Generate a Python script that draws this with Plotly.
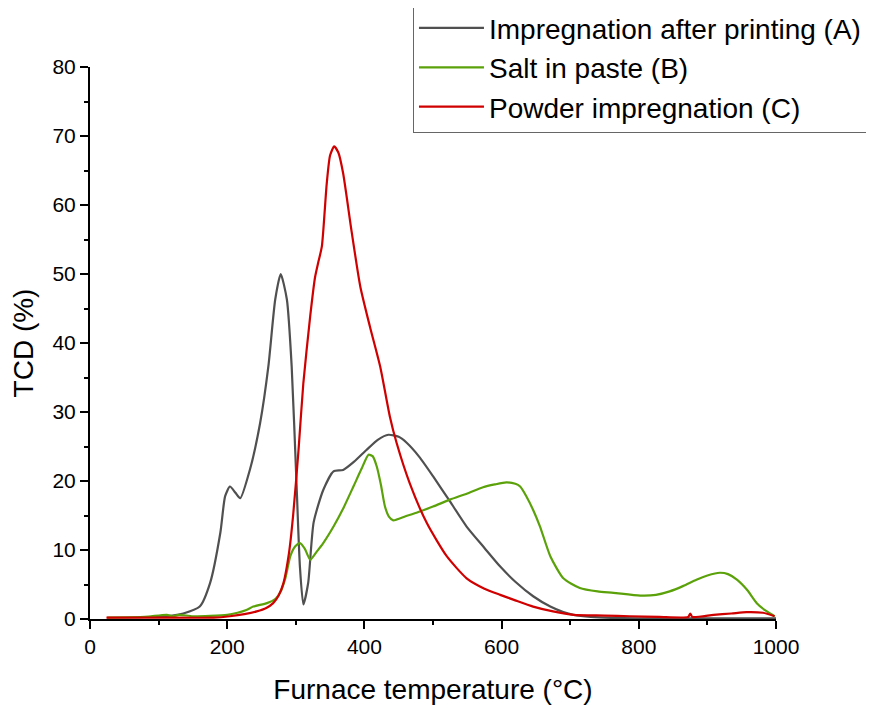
import plotly.graph_objects as go

# Impregnation after printing (A) - gray
temp_a = [90, 120, 136, 160, 175, 190, 197, 204, 212, 219, 233, 248, 260, 270, 278, 287, 294, 301, 306, 311,
          318, 326, 340, 355, 369, 385, 403, 420, 435, 450, 462, 480, 500, 525, 549, 575, 598, 620, 646, 671,
          690, 705, 730, 763, 800, 850, 900, 950, 1000]
tcd_a = [0.3, 0.5, 0.8, 1.8, 5.2, 12.5, 17.8, 19.2, 18.3, 17.5, 21.6, 28.4, 36.6, 46.3, 50.0, 46.3, 36.6, 19.7, 7.6, 2.1,
         5.2, 14.0, 18.7, 21.4, 21.6, 22.8, 24.5, 26.0, 26.7, 26.4, 25.5, 23.5, 20.7, 17.0, 13.4, 10.3, 7.6, 5.4, 3.3, 1.8,
         1.0, 0.6, 0.3, 0.15, 0.1, 0.1, 0.1, 0.1, 0.1]

# Salt in paste (B) - green
temp_b = [25, 80, 112, 120, 130, 150, 200, 215, 228, 238, 258, 270, 277, 285, 292, 299, 306, 313, 321, 330, 340,
          355, 370, 384, 396, 406, 412, 418, 424, 430, 436, 442, 460, 476, 500, 525, 550, 573, 590, 607, 620, 627,
          636, 646, 656, 671, 690, 714, 740, 763, 802, 825, 845, 865, 884, 900, 918, 930, 943, 958, 972, 985, 998]
tcd_b = [0.2, 0.3, 0.6, 0.4, 0.6, 0.4, 0.6, 0.9, 1.3, 1.8, 2.3, 2.9, 3.8, 6.0, 9.1, 10.5, 11.0, 10.2, 8.6, 9.7, 11.0,
         13.4, 16.2, 19.2, 21.8, 23.8, 23.6, 22.1, 19.5, 16.3, 14.8, 14.3, 14.9, 15.4, 16.3, 17.3, 18.2, 19.1, 19.5, 19.8, 19.6, 19.2,
         17.8, 15.8, 13.4, 9.1, 5.9, 4.5, 4.0, 3.8, 3.4, 3.5, 4.0, 4.8, 5.7, 6.3, 6.7, 6.5, 5.7, 4.2, 2.3, 1.2, 0.4]

# Powder impregnation (C) - red
temp_c = [24, 100, 180, 204, 225, 243, 257, 267, 275, 282, 290, 296, 304, 311, 321, 328, 333, 338, 345, 350, 356, 362,
          369, 381, 394, 408, 423, 437, 447, 466, 491, 520, 549, 575, 598, 620, 646, 675, 705, 750, 787, 830, 872, 875,
          878, 909, 935, 957, 981, 998]
tcd_c = [0.2, 0.2, 0.2, 0.4, 0.7, 1.1, 1.6, 2.3, 3.4, 5.2, 9.5, 14.9, 24.5, 34.2, 43.9, 49.5, 51.8, 54.0, 63.0, 67.2, 68.5, 67.6,
         64.6, 56.4, 48.2, 42.4, 36.6, 29.4, 25.5, 19.7, 13.9, 9.1, 5.9, 4.4, 3.5, 2.7, 1.8, 1.1, 0.6, 0.5, 0.4, 0.3, 0.3, 0.8,
         0.3, 0.6, 0.8, 1.0, 0.9, 0.4]

series = [
    ("Impregnation after printing (A)", temp_a, tcd_a, "#505050"),
    ("Salt in paste (B)", temp_b, tcd_b, "#5ba20a"),
    ("Powder impregnation (C)", temp_c, tcd_c, "#d00000"),
]

x_ticks = [0, 200, 400, 600, 800, 1000]
y_ticks = [0, 10, 20, 30, 40, 50, 60, 70, 80]

fig = go.Figure()
for name, x, y, color in series:
    fig.add_trace(go.Scatter(x=x, y=y, name=name, mode="lines",
                             line=dict(color=color, width=2.2, shape="spline", smoothing=0.6)))

font_family = "Arial, Liberation Sans, sans-serif"
axis_common = dict(showline=True, linecolor="black", linewidth=2, ticks="outside", ticklen=8,
                   tickwidth=2, tickcolor="black", showgrid=False, zeroline=False,
                   tickfont=dict(family=font_family, size=21, color="black"),
                   minor=dict(ticks="outside", ticklen=4, tickwidth=2, tickcolor="black"))

# figure sits at (8, 8) in the page because of the default body margin
fig.update_layout(
    width=866, height=700,
    plot_bgcolor="white", paper_bgcolor="white",
    margin=dict(l=82, r=98, t=59, b=89, autoexpand=False),
    font=dict(family=font_family, color="black"),
    xaxis=dict(range=[0, 1000], tickvals=x_ticks,
               title=dict(text="Furnace temperature (°C)", font=dict(size=28), standoff=22),
               **axis_common),
    yaxis=dict(range=[0, 80], tickvals=y_ticks,
               title=dict(text="TCD (%)", font=dict(size=28), standoff=12),
               **axis_common),
    legend=dict(x=0.4708, y=1.1014 + 0.016, xanchor="left", yanchor="top",
                bordercolor="#666666", borderwidth=1, bgcolor="white",
                font=dict(size=28, family=font_family, color="black"),
                itemwidth=65, tracegroupgap=0),
    showlegend=True,
)
fig.update_xaxes(minor=dict(tickvals=[100, 300, 500, 700, 900]))
fig.update_yaxes(minor=dict(tickvals=[5, 15, 25, 35, 45, 55, 65, 75]))

fig.write_html("out.html")
